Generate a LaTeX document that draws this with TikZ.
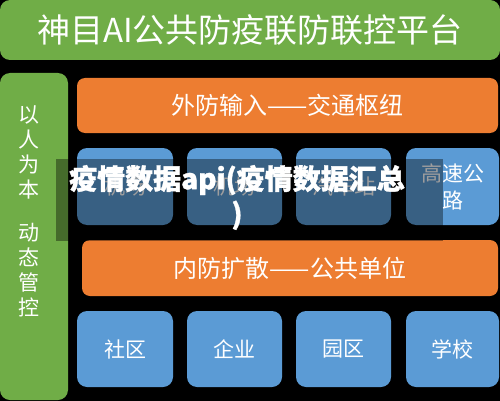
\documentclass[tikz,border=0pt]{standalone}
\usepackage{fontspec}
\setmainfont{Noto Sans CJK SC}
\newfontfamily\apifont{Noto Sans CJK SC}[BoldFeatures={FakeBold=1.2}]
\definecolor{gr}{HTML}{70AD47}
\definecolor{og}{HTML}{ED7D31}
\definecolor{bl}{HTML}{5B9BD5}
\tikzset{
  blk/.style={inner sep=0pt, text=white, align=center},
  gbox/.style={blk, fill=gr, rounded corners=10pt},
  obox/.style={blk, fill=og, rounded corners=8pt, minimum height=55pt, font=\fontsize{24}{28}\selectfont},
  bbox/.style={blk, fill=bl, rounded corners=10pt, minimum height=77pt, font=\fontsize{21}{27}\selectfont},
}
\begin{document}
\begin{tikzpicture}[x=1pt,y=-1pt]
\fill[black] (0,0) rectangle (500,401);
\useasboundingbox (0,0) rectangle (500,401);
\node[gbox, minimum width=500pt, minimum height=60pt, font=\fontsize{33}{36}\selectfont] (title) at (250,30) {神目AI公共防疫联防联控平台};
\node[gbox, minimum width=68pt, minimum height=327pt] (left) at (34,236.5) {};
\node[blk, font=\fontsize{21}{25}\selectfont] (lefttxt) at (29,211) {以\\人\\为\\本\\[18pt]动\\态\\管\\控};
\node[obox, minimum width=421pt] (out) at (287.5,105.5) {外防输入——交通枢纽};
\node[bbox, minimum width=96pt] (a1) at (125,186.5) {机场};
\node[bbox, minimum width=95pt] (a2) at (234.5,186.5) {机场};
\node[bbox, minimum width=95pt] (a3) at (343.5,186.5) {汽车站};
\node[bbox, minimum width=93pt] (a4) at (452.5,186.5) {高速公\\路};
\node[obox, minimum width=416pt, minimum height=56pt] (in) at (290,268) {内防扩散——公共单位};
\node[bbox, minimum width=96pt, minimum height=76pt] (b1) at (125,349) {社区};
\node[bbox, minimum width=95pt, minimum height=76pt] (b2) at (234.5,349) {企业};
\node[bbox, minimum width=95pt, minimum height=76pt] (b3) at (343.5,349) {园区};
\node[bbox, minimum width=93pt, minimum height=76pt] (b4) at (452.5,349) {学校};
\node[inner sep=0pt, fill=black, fill opacity=0.38, minimum width=387pt, minimum height=82pt] (shade) at (249.5,200) {};
\node[blk, font=\apifont\fontsize{28}{35}\bfseries\selectfont] (api) at (237,197.5) {疫情数据api(疫情数据汇总\\)};
\end{tikzpicture}
\end{document}
